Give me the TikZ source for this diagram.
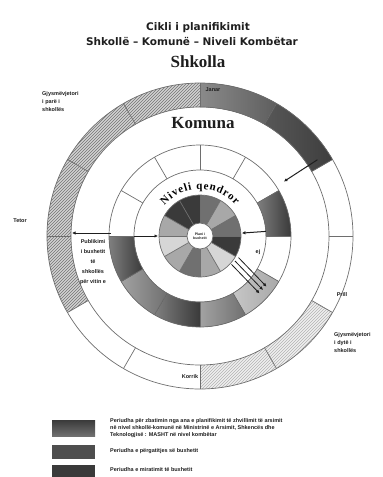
\documentclass[tikz,border=0pt]{standalone}
\usepackage{fontspec}
\setmainfont{Liberation Sans}
\newfontfamily\headfont{Liberation Serif}
\newfontfamily\titlefont{DejaVu Sans}
\usetikzlibrary{arrows.meta,patterns,decorations.text}
\definecolor{ink}{HTML}{1E1E1E}
\definecolor{rimc}{HTML}{6E6E6E}
\definecolor{gdark}{HTML}{3A3A3A}
\definecolor{gmid}{HTML}{707070}
\definecolor{glight}{HTML}{A8A8A8}
\definecolor{gpale}{HTML}{D6D6D6}
\definecolor{janl}{HTML}{8A8A8A}
\definecolor{janr}{HTML}{5E5E5E}
\definecolor{shkl}{HTML}{575757}
\definecolor{shkr}{HTML}{3E3E3E}
\tikzset{
  rim/.style={draw=rimc, line width=0.7pt},
  arr/.style={draw=ink, line width=1pt, -{Latex[length=3.5pt,width=3.5pt]}},
  ttl/.style={text=ink, font=\titlefont\bfseries\fontsize{10.5}{11}\selectfont},
  big/.style={text=ink, font=\headfont\bfseries\fontsize{17}{17}\selectfont},
  tiny/.style={text=ink, font=\bfseries\fontsize{5.5}{8}\selectfont, inner sep=0pt},
  legtxt/.style={text=ink, font=\bfseries\fontsize{5.5}{7}\selectfont, inner sep=0pt, align=left, anchor=north west},
}

\begin{document}
\begin{tikzpicture}[x=1pt,y=1pt]
\useasboundingbox (0,0) rectangle (383,-477);
% titles
\node[ttl] (title) at (198,-28) {Cikli i planifikimit};
\node[ttl] (subtitle) at (192,-42) {Shkollë – Komunë – Niveli Kombëtar};
\node[big] (shkolla) at (198,-62) {Shkolla};

\begin{scope}[shift={(200,-236)}]
% outer ring: school year, one piece a month
\foreach \a/\c/\b in {210/gray!90!black/gray!35,180/gray!90!black/gray!35,150/gray!90!black/gray!35,120/gray!90!black/gray!35,-30/gray!60/gray!12,-60/gray!60/gray!12}{
  \fill[fill=\b] (\a:153) arc[start angle=\a,delta angle=-30,radius=153] -- (\a-30:129) arc[start angle=\a-30,delta angle=30,radius=129] -- cycle;
  \fill[pattern=north east lines, pattern color=\c] (\a:153) arc[start angle=\a,delta angle=-30,radius=153] -- (\a-30:129) arc[start angle=\a-30,delta angle=30,radius=129] -- cycle;
}
\foreach \a/\c/\d in {90/janl/janr,60/shkl/shkr}
  \fill[left color=\c, right color=\d] (\a:153) arc[start angle=\a,delta angle=-30,radius=153] -- (\a-30:129) arc[start angle=\a-30,delta angle=30,radius=129] -- cycle;
\draw[rim] (0,0) circle[radius=153] (0,0) circle[radius=129];
\foreach \a in {0,30,...,330} \draw[rim] (\a:129) -- (\a:153);

% middle ring: municipality
\foreach \a/\c in {30/gdark,-30/glight,-60/gmid,-90/gdark,-120/gmid,-150/gdark}
  \fill[left color=\c!65, right color=\c] (\a:91) arc[start angle=\a,delta angle=-30,radius=91] -- (\a-30:66) arc[start angle=\a-30,delta angle=30,radius=66] -- cycle;
\draw[rim] (0,0) circle[radius=91] (0,0) circle[radius=66];
\foreach \a in {0,30,...,330} \draw[rim] (\a:66) -- (\a:91);

% inner disk: central level
\foreach \a/\c in {90/gmid,60/glight,30/gmid,0/gdark,-30/gpale,-60/glight,-90/gmid,-120/glight,-150/gpale,180/glight,150/gdark,120/gdark}
  \fill[fill=\c] (0,0) -- (\a:41) arc[start angle=\a,delta angle=-30,radius=41] -- cycle;
\draw[rim] (0,0) circle[radius=41];
\foreach \a in {0,30,...,330} \draw[rim] (\a:13) -- (\a:41);
\fill[white] (0,0) circle[radius=13];
\draw[rim] (0,0) circle[radius=13];
\node[tiny, font=\bfseries\fontsize{3.5}{4.5}\selectfont, align=center] (core) at (0,0) {Plani i\\buxhetit};

% ring titles
\node[big] (komuna) at (3,113) {Komuna};
\path[decorate, decoration={text along path, text align=fit to path,
  text={|\headfont\bfseries\fontsize{11}{11}\selectfont|Niveli qendror}}]
  (139:47) arc[start angle=139,end angle=41,radius=47];

% arrows between the rings
\coordinate (ur0) at (33:140);
\coordinate (ur1) at (33:100);
\draw[arr] (ur0) -- (ur1);
\coordinate (lf0) at (180:66);
\coordinate (lf1) at (180:42);
\draw[arr] (lf0) -- (lf1);
\coordinate (rt0) at (4:66);
\coordinate (rt1) at (4:42);
\draw[arr] (rt0) -- (rt1);
\foreach \i/\dx/\dy in {1/38.5/-21.6,2/35/-25,3/31.5/-28.4}{
  \coordinate (ts\i) at (\dx,\dy);
  \coordinate (te\i) at (\dx+28,\dy-29);
  \draw[arr, line width=0.8pt] (ts\i) -- (te\i);
}
\end{scope}

% month labels
\node[tiny] (janar) at (213,-90) {Janar};
\node[tiny] (prill) at (342,-295) {Prill};
\node[tiny] (korrik) at (190,-377) {Korrik};
\node[tiny] (tetor) at (20,-221) {Tetor};

% semester labels
\node[tiny, align=left, anchor=north west] (sem1) at (42,-91) {Gjysmëvjetori\\i parë i\\shkollës};
\node[tiny, align=left, anchor=north west] (sem2) at (334,-332) {Gjysmëvjetori\\i dytë i\\shkollës};

% budget note on the left
\coordinate (bud0) at (111,-233);
\coordinate (bud1) at (72,-233);
\draw[arr] (bud0) -- (bud1);
\node[tiny, align=center, font=\bfseries\fontsize{5.5}{9.8}\selectfont] (budget) at (93,-262) {Publikimi\\i buxhetit\\të\\shkollës\\për vitin e};
\node[tiny] (ej) at (258,-252) {ej};

% legend
\shade[top color=gdark, bottom color=gmid] (52,-420) rectangle (95,-436);
\fill[gdark!90] (52,-445) rectangle (95,-459);
\fill[gdark] (52,-465) rectangle (95,-477);
\node[legtxt] (leg1) at (110,-418) {Periudha për zbatimin nga ana e planifikimit të zhvillimit të arsimit\\në nivel shkollë-komunë në Ministrinë e Arsimit, Shkencës dhe\\Teknologjisë : MASHT në nivel kombëtar};
\node[legtxt] (leg2) at (110,-448) {Periudha e përgatitjes së buxhetit};
\node[legtxt] (leg3) at (110,-467) {Periudha e miratimit të buxhetit};
\end{tikzpicture}
\end{document}
